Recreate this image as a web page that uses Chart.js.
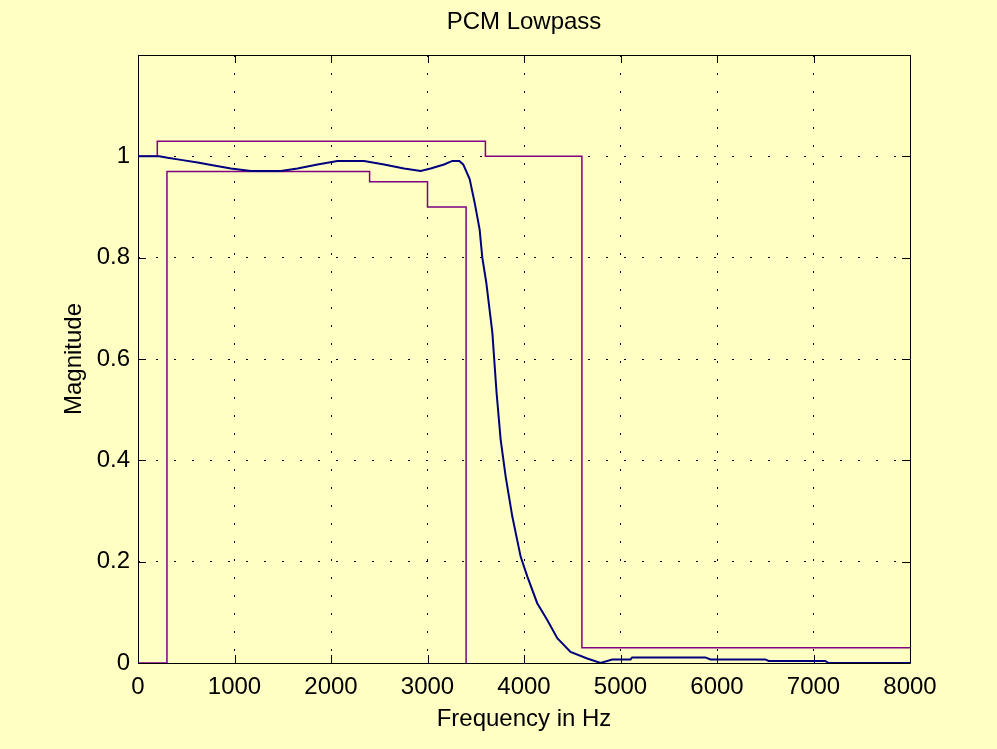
<!DOCTYPE html>
<html>
<head>
<meta charset="utf-8">
<title>PCM Lowpass</title>
<script src="https://cdn.jsdelivr.net/npm/chart.js@4.4.1/dist/chart.umd.min.js"></script>
<style>
  html, body { margin: 0; padding: 0; background: #ffffc4; }
  canvas { display: block; }
</style>
</head>
<body>
<canvas id="pcm" width="997" height="749"></canvas>
<script>
// filter response
const freq = [0, 220, 307, 445, 618, 787, 963, 1170, 1480, 1653, 1860, 2067, 2343, 2550, 2757, 2930,
  3033, 3171, 3258, 3330, 3370, 3437, 3488, 3540, 3568, 3609, 3672, 3716, 3758, 3810, 3879, 3965,
  4034, 4137, 4241, 4345, 4482, 4655, 4793, 4914, 5104, 5121, 5880, 5932, 6501, 6535, 7122, 7157, 8000];
const magnitude = [1.0, 1.0, 0.997, 0.993, 0.988, 0.982, 0.976, 0.971, 0.971, 0.976, 0.984, 0.991, 0.991, 0.984, 0.976, 0.971,
  0.976, 0.984, 0.991, 0.991, 0.984, 0.955, 0.909, 0.856, 0.80, 0.751, 0.652, 0.533, 0.441, 0.368, 0.289, 0.210,
  0.171, 0.118, 0.085, 0.049, 0.022, 0.009, 0.0, 0.007, 0.007, 0.011, 0.011, 0.007, 0.007, 0.004, 0.004, 0.0, 0.0];

// PCM mask limits
const upperMaskFreq = [0, 200, 200, 3600, 3600, 4600, 4600, 8000];
const upperMaskMag = [1, 1, 1.03, 1.03, 1, 1, 0.03, 0.03];
const lowerMaskFreq = [0, 300, 300, 2400, 2400, 3000, 3000, 3400, 3400];
const lowerMaskMag = [0, 0, 0.97, 0.97, 0.95, 0.95, 0.9, 0.9, 0];

const xTicks = [0, 1000, 2000, 3000, 4000, 5000, 6000, 7000, 8000];
const yTicks = [0, 0.2, 0.4, 0.6, 0.8, 1];

const toPoints = (xs, ys) => xs.map((x, i) => ({ x: x, y: ys[i] }));

const font = { family: "'Liberation Sans', Arial, sans-serif", size: 24 };

// box round the axes with ticks pointing inwards, like matlab
const boxTicks = {
  id: "boxTicks",
  beforeDatasetsDraw(chart) {
    const { ctx, chartArea: a, scales } = chart;
    const len = 8;
    ctx.save();
    ctx.strokeStyle = "#000";
    ctx.lineWidth = 1;
    ctx.setLineDash([]);
    ctx.beginPath();
    xTicks.forEach((v) => {
      const px = Math.round(scales.x.getPixelForValue(v)) + 0.5;
      ctx.moveTo(px, a.bottom);
      ctx.lineTo(px, a.bottom - len);
      ctx.moveTo(px, a.top);
      ctx.lineTo(px, a.top + len);
    });
    yTicks.forEach((v) => {
      const py = Math.round(scales.y.getPixelForValue(v)) + 0.5;
      ctx.moveTo(a.left, py);
      ctx.lineTo(a.left + len, py);
      ctx.moveTo(a.right, py);
      ctx.lineTo(a.right - len, py);
    });
    ctx.rect(Math.round(a.left) + 0.5, Math.round(a.top) + 0.5,
      Math.round(a.right - a.left), Math.round(a.bottom - a.top));
    ctx.stroke();
    ctx.restore();
  },
};

new Chart(document.getElementById("pcm"), {
  type: "line",
  data: {
    datasets: [
      {
        data: toPoints(freq, magnitude),
        borderColor: "#00007f",
        borderWidth: 2,
      },
      {
        data: toPoints(upperMaskFreq, upperMaskMag),
        borderColor: "#800080",
        borderWidth: 1.5,
      },
      {
        data: toPoints(lowerMaskFreq, lowerMaskMag),
        borderColor: "#800080",
        borderWidth: 1.5,
      },
    ],
  },
  options: {
    responsive: false,
    animation: false,
    elements: { point: { radius: 0 }, line: { tension: 0 } },
    layout: { padding: { left: 0, right: 87, top: 0, bottom: 0 } },
    plugins: {
      legend: { display: false },
      tooltip: { enabled: false },
    },
    scales: {
      // top axis only carries the title, so it sits centred over the plot box
      top: {
        type: "linear",
        position: "top",
        min: 0,
        max: 8000,
        afterFit: (s) => { s.height = 55; },
        ticks: { display: false },
        grid: { display: false, drawTicks: false },
        border: { display: false },
        title: { display: true, text: "PCM Lowpass", color: "#000", font: font, padding: { top: 8 } },
      },
      x: {
        type: "linear",
        min: 0,
        max: 8000,
        afterBuildTicks: (s) => { s.ticks = xTicks.map((v) => ({ value: v })); },
        afterFit: (s) => { s.height = 86; },
        ticks: { color: "#000", font: font, padding: 10, maxRotation: 0, callback: (v) => String(v) },
        grid: { color: "#000", lineWidth: 1, drawTicks: false },
        border: { display: false, dash: [2, 16] },
        title: { display: true, text: "Frequency in Hz", color: "#000", font: font, padding: { bottom: 15 } },
      },
      y: {
        min: 0,
        max: 1.2,
        afterBuildTicks: (s) => { s.ticks = yTicks.map((v) => ({ value: v })); },
        afterFit: (s) => { s.width = 138; },
        ticks: { color: "#000", font: font, padding: 8, callback: (v) => String(v) },
        grid: { color: "#000", lineWidth: 1, drawTicks: false },
        border: { display: false, dash: [2, 16] },
        title: { display: true, text: "Magnitude", color: "#000", font: font, padding: { top: 60 } },
      },
    },
  },
  plugins: [boxTicks],
});
</script>
</body>
</html>
